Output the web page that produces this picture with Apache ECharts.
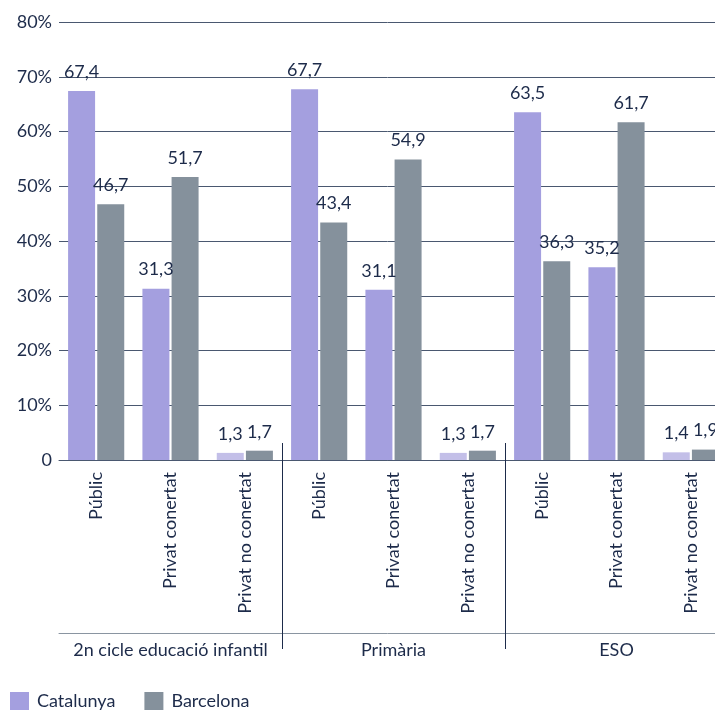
<!DOCTYPE html>
<html>
<head>
<meta charset="utf-8">
<script src="https://cdn.jsdelivr.net/npm/echarts@6/dist/echarts.min.js"></script>
<style>
html,body{margin:0;padding:0;background:#fff;}
#c{width:715px;height:710px;}
</style>
</head>
<body>
<div id="c"></div>
<script>
const categories = ["Públic","Privat conertat","Privat no conertat","Públic","Privat conertat","Privat no conertat","Públic","Privat conertat","Privat no conertat"];
const groups = ["2n cicle educació infantil","Primària","ESO"];
const catalunya = [67.4,31.3,1.3,67.7,31.1,1.3,63.5,35.2,1.4];
const barcelona = [46.7,51.7,1.7,43.4,54.9,1.7,36.3,61.7,1.9];
const yTicks = [0,10,20,30,40,50,60,70,80];

const TEXT = '#1d2b4a';
const PURPLE = '#a49fdf';
const LIGHT_PURPLE = '#c3bfe8';
const GREY = '#85919c';
const FONT = 'Lato';

const chart = echarts.init(document.getElementById('c'), null, {renderer:'canvas'});
const fmt = p => String(p.value).replace('.', ',');

chart.setOption({
  animation:false,
  textStyle:{fontFamily:FONT},
  grid:{left:59, width:669, top:22, height:438, containLabel:false, outerBoundsMode:'none'},
  legend:{
    left:10, top:692, padding:0, itemWidth:19, itemHeight:18, itemGap:29,
    icon:'rect',
    textStyle:{fontFamily:FONT, fontSize:18, color:TEXT, padding:[0,0,0,3]},
    data:['Catalunya','Barcelona']
  },
  xAxis:[
    {
      type:'category', data:categories, position:'bottom',
      axisLine:{show:true, lineStyle:{color:'#4a5870', width:1}},
      axisTick:{show:false},
      axisLabel:{rotate:90, fontSize:18, color:TEXT, margin:12, interval:0, fontFamily:FONT}
    },
    {
      type:'category', data:groups, position:'bottom', offset:173,
      axisLine:{show:true, lineStyle:{color:'#8a95a1', width:1}},
      axisTick:{show:true, inside:true, length:190, interval:(i)=>i>0, lineStyle:{color:'#1d2b4a', width:1}},
      axisLabel:{fontSize:18, color:TEXT, margin:8, interval:0, fontFamily:FONT}
    },
    {
      type:'category', data:groups, position:'bottom', offset:173,
      axisLine:{show:false},
      axisTick:{show:true, inside:false, length:16, interval:(i)=>i>0, lineStyle:{color:'#1d2b4a', width:1}},
      axisLabel:{show:false}
    }
  ],
  yAxis:{
    type:'value', min:yTicks[0], max:yTicks[yTicks.length-1], interval:10,
    axisLine:{show:false}, axisTick:{show:false},
    splitLine:{lineStyle:{color:'#4a5870', width:1}},
    axisLabel:{fontSize:18, color:TEXT, margin:7, fontFamily:FONT,
      formatter:v => v===0 ? '0' : v + '%'}
  },
  series:[
    {
      name:'Catalunya', type:'bar', xAxisIndex:0,
      data:catalunya.map((v,i)=> categories[i]==='Privat no conertat' ? {value:v, itemStyle:{color:LIGHT_PURPLE}} : v),
      itemStyle:{color:PURPLE},
      barWidth:27, barGap:'8%',
      label:{show:true, position:'top', distance:10, fontSize:18, color:TEXT, fontFamily:FONT, formatter:fmt}
    },
    {
      name:'Barcelona', type:'bar', xAxisIndex:0,
      data:barcelona,
      itemStyle:{color:GREY},
      barWidth:27, barGap:'8%',
      label:{show:true, position:'top', distance:10, fontSize:18, color:TEXT, fontFamily:FONT, formatter:fmt}
    }
  ]
});
</script>
</body>
</html>
